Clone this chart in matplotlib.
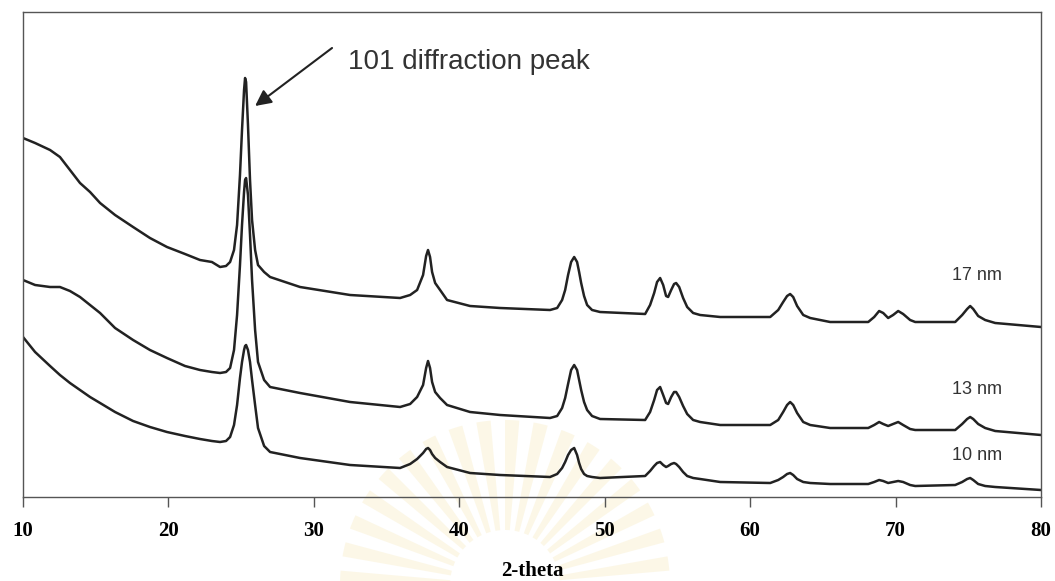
import numpy as np
import matplotlib
matplotlib.use("Agg")
from matplotlib import pyplot as plt
from matplotlib.patches import Wedge

# XRD scans of TiO2 powders (three crystallite sizes), intensity in a.u.
two_theta = [10.00, 10.83, 11.86, 12.54, 13.23, 13.92, 14.61, 15.30, 16.33, 17.57,
             18.73, 19.90, 21.14, 22.17, 22.99, 23.55, 23.96, 24.24, 24.51, 24.72,
             24.92, 25.06, 25.20, 25.27, 25.34, 25.47, 25.61, 25.75, 25.96, 26.16,
             26.58, 26.99, 29.05, 32.49, 35.93, 36.62, 37.10, 37.51, 37.72, 37.85,
             37.99, 38.13, 38.34, 38.68, 39.16, 40.74, 42.81, 46.24, 46.73, 47.07,
             47.28, 47.48, 47.69, 47.90, 48.10, 48.24, 48.38, 48.58, 48.79, 49.13,
             49.68, 52.78, 53.12, 53.40, 53.60, 53.81, 54.02, 54.22, 54.36, 54.57,
             54.77, 54.91, 55.12, 55.39, 55.67, 56.08, 56.56, 57.94, 61.38, 61.93,
             62.27, 62.54, 62.75, 62.96, 63.23, 63.65, 64.13, 65.50, 68.12, 68.53,
             68.87, 69.15, 69.49, 69.83, 70.18, 70.52, 71.00, 71.35, 74.10, 74.58,
             74.92, 75.13, 75.34, 75.68, 76.16, 76.85, 80.00]

int_17nm = [359, 354, 347, 340, 327, 314, 305, 294, 282, 270,
            259, 250, 243, 237, 235, 230, 231, 235, 247, 272,
            322, 367, 407, 419, 415, 372, 317, 277, 247, 232,
            225, 220, 210, 202, 199, 202, 207, 222, 241, 247,
            240, 225, 214, 207, 197, 191, 189, 187, 189, 197,
            207, 222, 235, 240, 235, 225, 214, 201, 192, 187,
            185, 183, 192, 204, 215, 219, 212, 201, 200, 207,
            213, 214, 210, 199, 190, 184, 182, 180, 180, 187,
            195, 201, 203, 200, 191, 182, 179, 175, 175, 180,
            186, 184, 179, 182, 186, 183, 177, 175, 175, 182,
            188, 191, 188, 181, 177, 174, 170]

int_13nm = [217, 212, 210, 210, 206, 200, 192, 184, 169, 157,
            147, 139, 131, 127, 125, 124, 125, 129, 147, 182,
            232, 272, 305, 317, 319, 302, 262, 217, 167, 135,
            117, 110, 104, 95, 90, 93, 100, 112, 129, 136,
            129, 115, 105, 99, 92, 85, 82, 79, 81, 89,
            99, 113, 127, 132, 127, 117, 107, 95, 87, 81,
            78, 77, 85, 97, 107, 110, 102, 94, 93, 100,
            105, 105, 100, 91, 83, 77, 75, 72, 72, 77,
            85, 92, 95, 92, 84, 75, 72, 69, 69, 72,
            75, 73, 71, 73, 75, 72, 68, 67, 67, 73,
            78, 80, 78, 73, 69, 66, 62]

int_10nm = [160, 145, 131, 122, 114, 107, 100, 94, 85, 76,
            70, 65, 61, 58, 56, 55, 56, 60, 72, 92,
            119, 135, 147, 151, 152, 147, 135, 117, 92, 69,
            51, 45, 39, 32, 29, 33, 38, 44, 48, 49,
            47, 43, 39, 35, 30, 24, 22, 20, 23, 29,
            35, 42, 47, 49, 42, 34, 28, 23, 21, 20,
            19, 21, 26, 31, 34, 35, 32, 30, 31, 33,
            34, 33, 30, 25, 21, 19, 18, 15, 14, 17,
            20, 23, 24, 22, 18, 15, 14, 13, 13, 15,
            17, 16, 14, 15, 16, 15, 12, 11, 12, 15,
            18, 19, 17, 13, 11, 10, 7]

sizes = ["17 nm", "13 nm", "10 nm"]
label_y = [222, 107, 42]
xticks = [10, 20, 30, 40, 50, 60, 70, 80]

fig = plt.figure(figsize=(10.55, 5.81), dpi=100)

# faint emblem behind the plot
bg = fig.add_axes([0, 0, 1, 1], zorder=0)
bg.set_xlim(0, 1055)
bg.set_ylim(581, 0)
bg.axis("off")
n_rays = 36
for k in range(n_rays):
    a0 = 180 + k * (360 / n_rays)
    bg.add_patch(Wedge((505, 585), 165, a0, a0 + 5, width=110,
                       facecolor="#f1d98a", edgecolor="none", alpha=0.2))

ax = fig.add_axes([23 / 1055, 1 - 497 / 581, 1018 / 1055, 485 / 581], zorder=1)
ax.set_facecolor("none")

ink = "#222222"
for inten in [int_17nm, int_13nm, int_10nm]:
    ax.plot(two_theta, inten, color=ink, lw=1.8, solid_joinstyle="round")

for s, yy in zip(sizes, label_y):
    ax.text(75.6, yy, s, ha="center", va="center", fontsize=13,
            family="Liberation Sans", color="#333333")

# arrow to the strongest reflection
i_pk = int(np.argmax(int_17nm))
x_pk, y_pk = two_theta[i_pk], int_17nm[i_pk]
ax.annotate("", xy=(x_pk + 0.69, y_pk - 28), xytext=(x_pk + 5.98, y_pk + 30),
            arrowprops=dict(arrowstyle="-|>", mutation_scale=24, lw=1.5,
                            color=ink, shrinkA=0, shrinkB=0))
ax.text(32.35, 435, "101 diffraction peak", ha="left", va="center",
        fontsize=20, family="Liberation Sans", color="#333333")

ax.set_xlim(10, 80)
ax.set_ylim(0, 485)
ax.set_xticks(xticks)
ax.set_xticklabels([str(t) for t in xticks], family="Liberation Serif",
                   fontweight="bold", fontsize=15)
ax.set_yticks([])
ax.tick_params(axis="x", direction="out", length=7, width=1, color="#555555",
               pad=10)
for sp in ax.spines.values():
    sp.set_color("#555555")
    sp.set_linewidth(1)
ax.set_xlabel("2-theta", family="Liberation Serif", fontweight="bold",
              fontsize=15, labelpad=15)

fig.savefig("out.png", dpi=100)
